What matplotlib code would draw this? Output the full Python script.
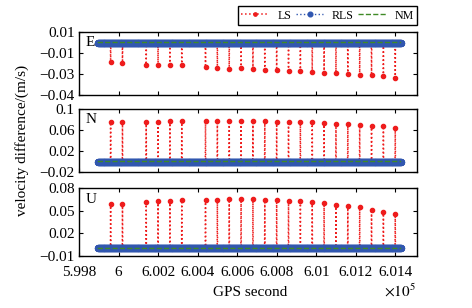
import numpy as np
import matplotlib
matplotlib.use("Agg")
import matplotlib.pyplot as plt
from matplotlib.ticker import FuncFormatter

plt.rcParams['font.family'] = ['Liberation Serif', 'DejaVu Serif']
plt.rcParams['font.size'] = 11

# GPS seconds of the record (1 s sampling)
t_start = 599895
t_end = 601430
t = np.arange(t_start, t_end + 1)

# epochs where LS jumps
spike_t = [599960, 600020, 600140, 600200, 600260, 600320, 600440, 600500,
           600560, 600620, 600680, 600740, 600800, 600860, 600920, 600980,
           601040, 601100, 601160, 601220, 601280, 601340, 601400]

# LS jump values per component
ls_e = [-0.0184, -0.0193, -0.0210, -0.0210, -0.0212, -0.0219, -0.0235, -0.0240,
        -0.0250, -0.0247, -0.0254, -0.0260, -0.0263, -0.0269, -0.0275, -0.0282,
        -0.0288, -0.0294, -0.0304, -0.0307, -0.0313, -0.0323, -0.0339]
ls_n = [0.0743, 0.0754, 0.0754, 0.0754, 0.0768, 0.0774, 0.0774, 0.0774,
        0.0774, 0.0774, 0.0774, 0.0768, 0.0760, 0.0760, 0.0748, 0.0748,
        0.0735, 0.0723, 0.0710, 0.0697, 0.0684, 0.0670, 0.0638]
ls_u = [0.0591, 0.0591, 0.0609, 0.0626, 0.0626, 0.0636, 0.0640, 0.0640,
        0.0649, 0.0649, 0.0649, 0.0640, 0.0636, 0.0632, 0.0622, 0.0613,
        0.0595, 0.0578, 0.0565, 0.0546, 0.0515, 0.0488, 0.0452]

labels = ['E', 'N', 'U']
ylims = [(-0.05, 0.01), (-0.02, 0.1), (-0.01, 0.08)]
yticks = [[0.01, -0.01, -0.03, -0.05], [0.1, 0.06, 0.02, -0.02], [0.08, 0.05, 0.02, -0.01]]
yticklabels = [['0.01', '\u22120.01', '\u22120.03', '\u22120.04'],
               ['0.1', '0.06', '0.02', '\u22120.02'],
               ['0.08', '0.05', '0.02', '\u22120.01']]
xticks = [599800, 600000, 600200, 600400, 600600, 600800, 601000, 601200, 601400]

W, H = 472, 308
fig = plt.figure(figsize=(W / 100, H / 100), dpi=100)
boxes = [(32, 95), (109, 172), (188, 256)]
left, right = 79, 417

idx = np.searchsorted(t, spike_t)
for k, (ls_vals, (top, bot)) in enumerate(zip([ls_e, ls_n, ls_u], boxes)):
    ax = fig.add_axes([left / W, 1 - bot / H, (right - left) / W, (bot - top) / H])
    ls = np.zeros(len(t))
    ls[idx] = ls_vals
    rls = np.zeros(len(t))
    nm = np.zeros(len(t))
    ax.plot(t, ls, ':', color='#ee1c1c', lw=1.1, marker='.', ms=6, label='LS')
    ax.plot(t, rls, ':', color='#3157b0', lw=1.0, marker='o', ms=4.2, label='RLS')
    ax.plot(t, nm, '--', color='#3f8a26', lw=1.0, label='NM')
    ax.set_xlim(599800, 601510)
    ax.set_ylim(*ylims[k])
    ax.set_yticks(yticks[k])
    ax.set_yticklabels(yticklabels[k])
    ax.set_xticks(xticks)
    if k == 2:
        ax.xaxis.set_major_formatter(FuncFormatter(lambda v, p: '%g' % (v / 1e5)))
    else:
        ax.set_xticklabels([])
    ax.tick_params(direction='in', top=True, right=True, length=3, width=0.8, pad=3)
    ax.tick_params(axis='x', pad=7)
    for s in ax.spines.values():
        s.set_linewidth(1.0)
    ax.text(0.02, 0.93, labels[k], transform=ax.transAxes, ha='left', va='top')
    if k == 0:
        handles, hl = ax.get_legend_handles_labels()

leg = fig.legend(handles, hl, ncol=3, loc='upper right',
                 bbox_to_anchor=(right / W, 1 - 6 / H), fontsize=8.6,
                 frameon=True, fancybox=False, edgecolor='black', framealpha=1,
                 handlelength=2.3, columnspacing=0.4, handletextpad=0.7,
                 borderpad=0.3, borderaxespad=0, markerscale=0.8)
leg.get_frame().set_linewidth(1.0)

fig.text(22 / W, 1 - 140 / H, 'velocity difference/(m/s)', rotation=90,
         ha='center', va='center')
fig.text(250 / W, 1 - 292 / H, 'GPS second', ha='center', va='center')
fig.text(400 / W, 1 - 291 / H, r'$\times 10^5$', ha='center', va='center',
         fontsize=11, math_fontfamily='stix')

fig.savefig('out.png', dpi=100)
